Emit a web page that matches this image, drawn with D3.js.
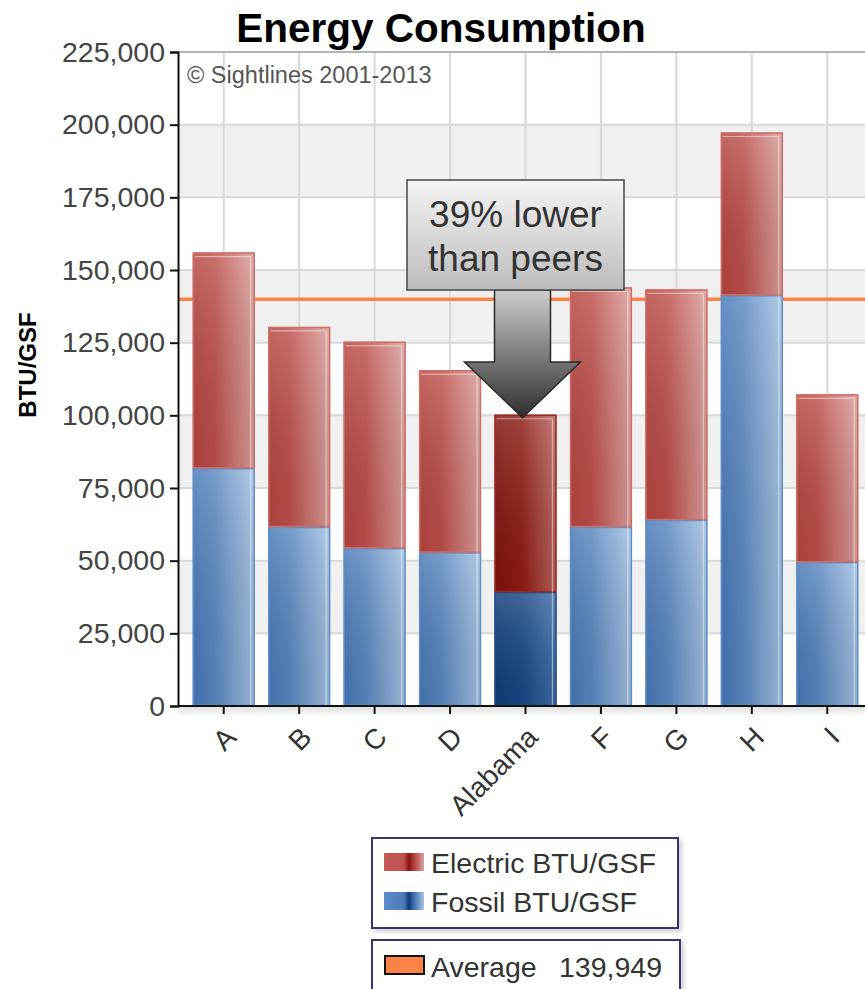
<!DOCTYPE html>
<html>
<head>
<meta charset="utf-8">
<script src="https://cdn.jsdelivr.net/npm/d3@7/dist/d3.min.js"></script>
<style>
  html, body { margin: 0; padding: 0; background: #ffffff; }
  svg { display: block; }
  text { font-family: "Liberation Sans", Arial, sans-serif; }
</style>
</head>
<body>
<svg id="chart" width="865" height="989"></svg>
<script>
// Energy use per gross square foot, split into fossil and electric parts
const categories = ["A", "B", "C", "D", "Alabama", "F", "G", "H", "I"];
const fossil   = [81800, 61600, 54300, 52800, 39200, 61600, 64000, 141300, 49500];
const electric = [74200, 68800, 71000, 62700, 61000, 82400, 79300, 56000, 57700];
const highlight = "Alabama";
const average = 139949;
const yTicks = [0, 25000, 50000, 75000, 100000, 125000, 150000, 175000, 200000, 225000];
const seriesNames = ["Electric BTU/GSF", "Fossil BTU/GSF"];

const svg = d3.select("#chart");
const defs = svg.append("defs");

const plot = { left: 178, right: 865, top: 52, bottom: 706 };

const x = d3.scaleBand()
  .domain(categories)
  .range([186, 865])
  .paddingInner(0.18)
  .paddingOuter(0.09);

const y = d3.scaleLinear()
  .domain([0, 225000])
  .range([plot.bottom, plot.top]);

// gradients for bar fills
function hGrad(id, stops) {
  const g = defs.append("linearGradient").attr("id", id)
    .attr("x1", "0").attr("y1", "0").attr("x2", "1").attr("y2", "0");
  stops.forEach(s => g.append("stop").attr("offset", s[0]).attr("stop-color", s[1]));
}
hGrad("redBar",  [[0, "#b5443f"], [0.35, "#bd4e49"], [1, "#d99e9b"]]);
hGrad("blueBar", [[0, "#4676b4"], [0.35, "#5886c0"], [1, "#a2bfe0"]]);
hGrad("redDark", [[0, "#7e110a"], [0.45, "#8f1d14"], [1, "#b8625c"]]);
hGrad("blueDark",[[0, "#0f3c78"], [0.45, "#174784"], [1, "#3f6ea8"]]);
hGrad("redKey",  [[0, "#c45a56"], [0.5, "#c0504d"], [0.62, "#8a1410"], [0.78, "#b84a44"], [1, "#dca4a2"]]);
hGrad("blueKey", [[0, "#5c8cc8"], [0.5, "#4a7bb9"], [0.62, "#0f3c78"], [0.78, "#4a7bb9"], [1, "#a8c4e4"]]);

// soft vertical sheen laid over each bar
const sheen = defs.append("linearGradient").attr("id", "sheen")
  .attr("x1", "0").attr("y1", "0").attr("x2", "0").attr("y2", "1");
sheen.append("stop").attr("offset", 0).attr("stop-color", "#ffffff").attr("stop-opacity", 0.18);
sheen.append("stop").attr("offset", 1).attr("stop-color", "#000000").attr("stop-opacity", 0.06);

const calloutGrad = defs.append("linearGradient").attr("id", "calloutGrad")
  .attr("x1", "0").attr("y1", "0").attr("x2", "0").attr("y2", "1");
calloutGrad.append("stop").attr("offset", 0).attr("stop-color", "#f4f4f4");
calloutGrad.append("stop").attr("offset", 1).attr("stop-color", "#bcbcbc");

const arrowGrad = defs.append("linearGradient").attr("id", "arrowGrad")
  .attr("x1", "0").attr("y1", "0").attr("x2", "0").attr("y2", "1");
arrowGrad.append("stop").attr("offset", 0).attr("stop-color", "#cdcdcd");
arrowGrad.append("stop").attr("offset", 1).attr("stop-color", "#2e2e2e");

const axisShadow = defs.append("linearGradient").attr("id", "axisShadow")
  .attr("x1", "0").attr("y1", "0").attr("x2", "0").attr("y2", "1");
axisShadow.append("stop").attr("offset", 0).attr("stop-color", "#000").attr("stop-opacity", 0.12);
axisShadow.append("stop").attr("offset", 1).attr("stop-color", "#000").attr("stop-opacity", 0);

// alternating background bands
const bands = yTicks.slice(0, -1).map((v, i) => ({ lo: v, hi: yTicks[i + 1], i }));
svg.append("g").selectAll("rect")
  .data(bands)
  .join("rect")
  .attr("x", plot.left)
  .attr("y", d => y(d.hi))
  .attr("width", plot.right - plot.left)
  .attr("height", d => y(d.lo) - y(d.hi))
  .attr("fill", d => (d.i % 2 === 1) ? "#f0f0f0" : "#ffffff");

// gridlines
svg.append("g").selectAll("line.h")
  .data(yTicks.slice(1, -1))
  .join("line")
  .attr("x1", plot.left).attr("x2", plot.right)
  .attr("y1", d => y(d)).attr("y2", d => y(d))
  .attr("stroke", "#d8d8d8").attr("stroke-width", 2);

svg.append("g").selectAll("line.v")
  .data(categories)
  .join("line")
  .attr("x1", d => x(d) + x.bandwidth() / 2).attr("x2", d => x(d) + x.bandwidth() / 2)
  .attr("y1", plot.top).attr("y2", plot.bottom)
  .attr("stroke", "#d8d8d8").attr("stroke-width", 2);

// top frame line
svg.append("line")
  .attr("x1", plot.left).attr("x2", plot.right)
  .attr("y1", plot.top).attr("y2", plot.top)
  .attr("stroke", "#b4b4b4").attr("stroke-width", 2);

// copyright note
svg.append("text")
  .attr("x", 187).attr("y", 83)
  .attr("font-size", 23.5)
  .attr("fill", "#555")
  .text("\u00A9 Sightlines 2001-2013");

// average line
svg.append("line")
  .attr("x1", plot.left).attr("x2", plot.right)
  .attr("y1", y(average)).attr("y2", y(average))
  .attr("stroke", "#fb8345").attr("stroke-width", 3.5);

// stacked bars
const stackData = categories.map((c, i) => ({ cat: c, fossil: fossil[i], electric: electric[i] }));
const stack = d3.stack().keys(["fossil", "electric"])(stackData);

const barG = svg.append("g");
stack.forEach(layer => {
  const isRed = layer.key === "electric";
  const g = barG.append("g");
  layer.forEach(seg => {
    const cat = seg.data.cat;
    const hl = cat === highlight;
    const bx = x(cat), bw = x.bandwidth();
    const top = y(seg[1]), bot = y(seg[0]);
    const fill = isRed ? (hl ? "url(#redDark)" : "url(#redBar)") : (hl ? "url(#blueDark)" : "url(#blueBar)");
    const edge = isRed ? (hl ? "#9a2a22" : "#cc6d68") : (hl ? "#1d4c88" : "#5f8fc9");
    g.append("rect")
      .attr("x", bx).attr("y", top).attr("width", bw).attr("height", bot - top)
      .attr("fill", fill);
    g.append("rect")
      .attr("x", bx).attr("y", top).attr("width", bw).attr("height", bot - top)
      .attr("fill", "url(#sheen)");
    g.append("rect")
      .attr("x", bx + 0.5).attr("y", top + 0.5).attr("width", bw - 1).attr("height", bot - top - 1)
      .attr("fill", "none").attr("stroke", edge).attr("stroke-width", 1.5);
    // right-side inner highlight
    g.append("line")
      .attr("x1", bx + bw - 4).attr("x2", bx + bw - 4)
      .attr("y1", top + (isRed ? 4 : 0)).attr("y2", bot)
      .attr("stroke", "#ffffff").attr("stroke-opacity", 0.45).attr("stroke-width", 1.2);
    if (isRed) {
      g.append("line")
        .attr("x1", bx + 2).attr("x2", bx + bw - 4)
        .attr("y1", top + 4).attr("y2", top + 4)
        .attr("stroke", "#ffffff").attr("stroke-opacity", 0.45).attr("stroke-width", 1.2);
    }
  });
});

// shadow under the category axis
svg.append("rect")
  .attr("x", plot.left).attr("y", plot.bottom + 1)
  .attr("width", plot.right - plot.left).attr("height", 10)
  .attr("fill", "url(#axisShadow)");

// y axis
const yAxis = d3.axisLeft(y)
  .tickValues(yTicks)
  .tickSize(8)
  .tickPadding(5)
  .tickFormat(d3.format(","));
const yG = svg.append("g")
  .attr("transform", `translate(${plot.left},0)`)
  .call(yAxis);
yG.select(".domain").attr("stroke", "#111").attr("stroke-width", 2);
yG.selectAll(".tick line").attr("stroke", "#111").attr("stroke-width", 2);
yG.selectAll(".tick text")
  .attr("font-size", 28.5)
  .attr("fill", "#444")
  .attr("font-family", "Liberation Sans, Arial, sans-serif");

// x axis
const xAxis = d3.axisBottom(x).tickSize(8).tickSizeOuter(0);
const xG = svg.append("g")
  .attr("transform", `translate(0,${plot.bottom})`)
  .call(xAxis);
xG.select(".domain").attr("stroke", "#111").attr("stroke-width", 2)
  .attr("d", `M${plot.left},0H${plot.right}`);
xG.selectAll(".tick line").attr("stroke", "#111").attr("stroke-width", 2);
xG.selectAll(".tick text")
  .attr("font-size", 28)
  .attr("fill", "#333")
  .attr("font-family", "Liberation Sans, Arial, sans-serif")
  .attr("text-anchor", "end")
  .attr("dy", 0)
  .attr("y", 0)
  .attr("transform", "translate(14,33) rotate(-45)");

// title
svg.append("text")
  .attr("x", 441).attr("y", 42)
  .attr("text-anchor", "middle")
  .attr("font-size", 40.5)
  .attr("font-weight", "bold")
  .attr("fill", "#000")
  .text("Energy Consumption");

// y axis title
svg.append("text")
  .attr("transform", "translate(36,365) rotate(-90)")
  .attr("text-anchor", "middle")
  .attr("font-size", 24)
  .attr("font-weight", "bold")
  .attr("fill", "#000")
  .text("BTU/GSF");

// callout box with arrow pointing at the highlighted bar
const hIdx = categories.indexOf(highlight);
const hx = x(highlight) + x.bandwidth() / 2 - 3;
const arrowTipY = y(fossil[hIdx] + electric[hIdx]) + 3;
const box = { x: 407, y: 180, w: 217, h: 110 };
const shaftHalf = 28, headHalf = 58, headBaseY = 362;
svg.append("path")
  .attr("d", `M${hx - shaftHalf},${box.y + box.h} L${hx + shaftHalf},${box.y + box.h} L${hx + shaftHalf},${headBaseY}
              L${hx + headHalf},${headBaseY} L${hx},${arrowTipY} L${hx - headHalf},${headBaseY}
              L${hx - shaftHalf},${headBaseY} Z`)
  .attr("fill", "url(#arrowGrad)")
  .attr("stroke", "#2a2a2a").attr("stroke-width", 1.5);

svg.append("rect")
  .attr("x", box.x).attr("y", box.y).attr("width", box.w).attr("height", box.h)
  .attr("fill", "url(#calloutGrad)")
  .attr("stroke", "#474747").attr("stroke-width", 1.5);
svg.append("text")
  .attr("x", box.x + box.w / 2).attr("y", 227)
  .attr("text-anchor", "middle").attr("font-size", 37).attr("fill", "#333")
  .text("39% lower");
svg.append("text")
  .attr("x", box.x + box.w / 2).attr("y", 271)
  .attr("text-anchor", "middle").attr("font-size", 37).attr("fill", "#333")
  .text("than peers");

// legends
const legendFilter = defs.append("filter").attr("id", "legShadow")
  .attr("x", "-5%").attr("y", "-5%").attr("width", "115%").attr("height", "130%");
legendFilter.append("feDropShadow").attr("dx", 3).attr("dy", 3).attr("stdDeviation", 2)
  .attr("flood-color", "#000").attr("flood-opacity", 0.18);

const leg1 = svg.append("g");
leg1.append("rect")
  .attr("x", 372).attr("y", 838).attr("width", 306).attr("height", 90)
  .attr("fill", "#fff").attr("stroke", "#3b3272").attr("stroke-width", 2)
  .attr("filter", "url(#legShadow)");
const keyFills = ["url(#redKey)", "url(#blueKey)"];
seriesNames.forEach((name, i) => {
  leg1.append("rect")
    .attr("x", 384).attr("y", 853 + i * 39).attr("width", 40).attr("height", 18)
    .attr("fill", keyFills[i]);
  leg1.append("text")
    .attr("x", 431).attr("y", 873 + i * 39)
    .attr("font-size", 28.5).attr("fill", "#333")
    .text(name);
});

const leg2 = svg.append("g");
leg2.append("rect")
  .attr("x", 372).attr("y", 940).attr("width", 308).attr("height", 70)
  .attr("fill", "#fff").attr("stroke", "#3b3272").attr("stroke-width", 2)
  .attr("filter", "url(#legShadow)");
leg2.append("rect")
  .attr("x", 385).attr("y", 956).attr("width", 39).attr("height", 18)
  .attr("fill", "#fb8345").attr("stroke", "#111").attr("stroke-width", 2);
leg2.append("text")
  .attr("x", 431).attr("y", 977)
  .attr("font-size", 28.5).attr("fill", "#333")
  .text("Average");
leg2.append("text")
  .attr("x", 559).attr("y", 977)
  .attr("font-size", 28.5).attr("fill", "#333")
  .text(d3.format(",")(average));
</script>
</body>
</html>
